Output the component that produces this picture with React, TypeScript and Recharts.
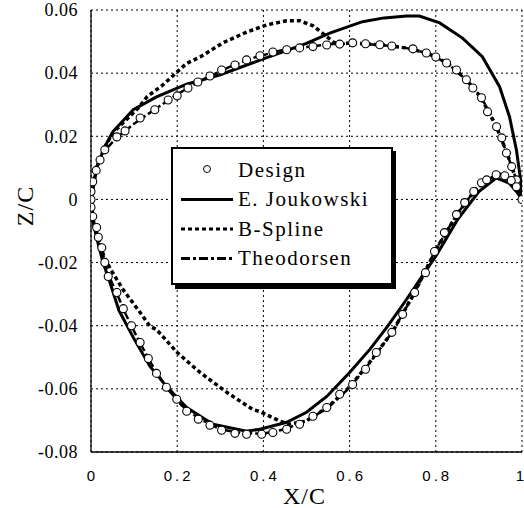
import React from 'react';
import { ComposedChart, Line, Scatter, XAxis, YAxis, CartesianGrid, Label } from 'recharts';

const xTicks = [0, 0.2, 0.4, 0.6, 0.8, 1];
const zTicks = [-0.08, -0.06, -0.04, -0.02, 0, 0.02, 0.04, 0.06];

// Sections run trailing edge -> upper surface -> leading edge -> lower surface -> trailing edge
const designX = [
  1.0, 0.987, 0.976, 0.964, 0.953, 0.941, 0.92, 0.906, 0.886, 0.871, 0.848, 0.825, 0.8, 0.778, 0.747,
  0.698, 0.67, 0.637, 0.607, 0.577, 0.547, 0.515, 0.484, 0.454, 0.422, 0.392, 0.361, 0.334, 0.303,
  0.276, 0.248, 0.225, 0.2, 0.179, 0.148, 0.114, 0.079, 0.06, 0.032, 0.021, 0.012, 0.004, 0.0, 0.0,
  0.0, 0.004, 0.013, 0.017, 0.025, 0.032, 0.04, 0.06, 0.075, 0.094, 0.114, 0.133, 0.152, 0.175,
  0.199, 0.222, 0.249, 0.276, 0.303, 0.334, 0.361, 0.396, 0.422, 0.454, 0.484, 0.515, 0.547, 0.577,
  0.607, 0.637, 0.662, 0.698, 0.723, 0.751, 0.776, 0.797, 0.82, 0.848, 0.867, 0.888, 0.906, 0.918,
  0.94, 0.96, 0.975, 0.987,
];
const designZ = [
  0.0, 0.0062, 0.0104, 0.0147, 0.0195, 0.023, 0.0278, 0.0322, 0.0353, 0.0379, 0.041, 0.0432, 0.0451,
  0.0464, 0.0477, 0.0486, 0.049, 0.0493, 0.0496, 0.0492, 0.0489, 0.0484, 0.048, 0.0474, 0.0467,
  0.0455, 0.0442, 0.0426, 0.041, 0.0391, 0.0372, 0.0353, 0.0328, 0.0315, 0.0284, 0.0258, 0.0217,
  0.0198, 0.0157, 0.0125, 0.0092, 0.0056, 0.0025, 0.0, -0.0025, -0.0054, -0.0089, -0.012, -0.0153,
  -0.02, -0.0244, -0.0295, -0.0346, -0.04, -0.0453, -0.0504, -0.0551, -0.0595, -0.0633, -0.0671,
  -0.0696, -0.0715, -0.0731, -0.0741, -0.0744, -0.0744, -0.0738, -0.0728, -0.0712, -0.0687, -0.0659,
  -0.0617, -0.0586, -0.0538, -0.0485, -0.0421, -0.0364, -0.0295, -0.0232, -0.0165, -0.0105, -0.0048,
  -0.001, 0.0025, 0.0053, 0.0062, 0.0078, 0.0075, 0.006, 0.004,
];

const joukowskiX = [
  1.0, 0.999, 0.987, 0.971, 0.948, 0.908, 0.862, 0.809, 0.762, 0.732, 0.68, 0.63, 0.554, 0.5, 0.4,
  0.3, 0.222, 0.152, 0.098, 0.051, 0.032, 0.014, 0.002, 0.005, 0.016, 0.028, 0.044, 0.065, 0.098,
  0.137, 0.175, 0.222, 0.283, 0.361, 0.392, 0.454, 0.5, 0.547, 0.6, 0.647, 0.688, 0.732, 0.77, 0.8,
  0.85, 0.9, 0.94, 0.97, 0.99, 1.0,
];
const joukowskiZ = [
  0.0, 0.004, 0.0157, 0.0262, 0.0357, 0.0452, 0.0511, 0.0559, 0.0581, 0.0581, 0.0575, 0.0563,
  0.0527, 0.0494, 0.0445, 0.0395, 0.0365, 0.0325, 0.0284, 0.0215, 0.0167, 0.0104, 0.001, -0.0073,
  -0.0137, -0.02, -0.0263, -0.0352, -0.0437, -0.0529, -0.0592, -0.0659, -0.0712, -0.0734, -0.0728,
  -0.0706, -0.0674, -0.0624, -0.0548, -0.0475, -0.0402, -0.0317, -0.024, -0.018, -0.0065, 0.0025,
  0.0068, 0.0052, 0.002, 0.0,
];

const bSplineX = [
  1.0, 0.985, 0.965, 0.94, 0.905, 0.87, 0.825, 0.78, 0.73, 0.68, 0.62, 0.565, 0.542, 0.515, 0.484,
  0.454, 0.408, 0.361, 0.306, 0.253, 0.222, 0.2, 0.167, 0.13, 0.11, 0.08, 0.05, 0.03, 0.014, 0.003,
  0.0, 0.004, 0.015, 0.03, 0.045, 0.074, 0.109, 0.137, 0.152, 0.2, 0.253, 0.315, 0.375, 0.392, 0.438,
  0.46, 0.5, 0.55, 0.6, 0.65, 0.7, 0.75, 0.8, 0.85, 0.89, 0.92, 0.95, 0.975, 1.0,
];
const bSplineZ = [
  0.0, 0.0068, 0.0148, 0.0232, 0.0322, 0.0381, 0.0433, 0.0464, 0.048, 0.0489, 0.0494, 0.0496,
  0.0521, 0.055, 0.0566, 0.0566, 0.0553, 0.053, 0.0496, 0.0451, 0.0431, 0.0404, 0.0363, 0.0325,
  0.029, 0.025, 0.021, 0.016, 0.0104, 0.004, 0.0, -0.006, -0.012, -0.018, -0.022, -0.0285, -0.0349,
  -0.0402, -0.0412, -0.0485, -0.0548, -0.0611, -0.0665, -0.0672, -0.0702, -0.0712, -0.0702, -0.0657,
  -0.0594, -0.051, -0.0418, -0.0297, -0.016, -0.0046, 0.0027, 0.0064, 0.0079, 0.006, 0.0,
];

const theodorsenX = [
  1.0, 0.985, 0.965, 0.94, 0.905, 0.87, 0.825, 0.78, 0.73, 0.68, 0.62, 0.56, 0.5, 0.44, 0.38, 0.32,
  0.26, 0.2, 0.15, 0.1, 0.06, 0.03, 0.012, 0.002, 0.0, 0.003, 0.012, 0.025, 0.04, 0.06, 0.08, 0.11,
  0.14, 0.175, 0.21, 0.25, 0.3, 0.35, 0.4, 0.45, 0.5, 0.55, 0.6, 0.65, 0.7, 0.75, 0.8, 0.85, 0.89,
  0.92, 0.95, 0.975, 1.0,
];
const theodorsenZ = [
  0.0, 0.007, 0.0145, 0.0235, 0.0325, 0.038, 0.0433, 0.0463, 0.048, 0.0488, 0.0494, 0.0492, 0.0483,
  0.0472, 0.045, 0.0419, 0.038, 0.0333, 0.0287, 0.024, 0.0196, 0.0152, 0.0093, 0.004, 0.0, -0.005,
  -0.0095, -0.0158, -0.0238, -0.0298, -0.0362, -0.0445, -0.052, -0.0596, -0.0652, -0.0694, -0.0728,
  -0.074, -0.0742, -0.0728, -0.07, -0.066, -0.0596, -0.0512, -0.0418, -0.0298, -0.0158, -0.0045,
  0.0028, 0.0063, 0.0078, 0.006, 0.0,
];

const toPoints = (xs: number[], zs: number[]) => xs.map((x, i) => ({ x, z: zs[i] }));

const design = toPoints(designX, designZ);
const joukowski = toPoints(joukowskiX, joukowskiZ);
const bSpline = toPoints(bSplineX, bSplineZ);
const theodorsen = toPoints(theodorsenX, theodorsenZ);

const serifText = { fontFamily: 'Liberation Serif' };
const sansText = { fontFamily: 'Liberation Sans' };

const SOLID = undefined;
const DOTTED = '4 3';
const DASH_DOT = '9 3 3 3';

const XTick = (props: any) => {
  const { x, y, payload } = props;
  return (
    <text x={x + 1.5} y={y} dy="0.71em" textAnchor="middle" style={sansText} fontSize={15} letterSpacing={3} fill="#000">
      {String(payload.value)}
    </text>
  );
};

const YTick = (props: any) => {
  const { x, y, payload } = props;
  const v = payload.value as number;
  return (
    <text x={x} y={y} dy="0.35em" textAnchor="end" style={serifText} fontSize={18} letterSpacing={0.5} fill="#000">
      {v === 0 ? '0' : v.toFixed(2)}
    </text>
  );
};

const NoTick = () => null;

const Ring = (props: any) => {
  const { cx, cy } = props;
  return <circle cx={cx} cy={cy} r={4} fill="#fff" stroke="#000" strokeWidth={1.1} />;
};

const legendRows = [
  { name: 'Design', dash: null },
  { name: 'E. Joukowski', dash: SOLID },
  { name: 'B-Spline', dash: DOTTED },
  { name: 'Theodorsen', dash: DASH_DOT },
];

const ChartLegend = () => (
  <svg width={228} height={145} style={{ position: 'absolute', left: 171, top: 147 }}>
    <rect x={4} y={4} width={221} height={138} fill="#000" />
    <rect x={1} y={1} width={220} height={136} fill="#fff" stroke="#000" strokeWidth={2} />
    {legendRows.map((row, i) => {
      const y = 23 + i * 29.5;
      return (
        <g key={row.name}>
          {row.dash === null ? (
            <circle cx={36} cy={y - 1} r={3.5} fill="#fff" stroke="#000" strokeWidth={1} />
          ) : (
            <line x1={10} x2={62} y1={y} y2={y} stroke="#000" strokeWidth={3} strokeDasharray={row.dash} />
          )}
          <text x={67} y={y} dy="0.33em" style={serifText} fontSize={21} letterSpacing={1.5} fill="#000">
            {row.name}
          </text>
        </g>
      );
    })}
  </svg>
);

export default function App() {
  return (
    <div style={{ position: 'absolute', left: 0, top: 0, width: 524, height: 508, background: '#fff' }}>
      <ComposedChart width={524} height={508} margin={{ top: 10, right: 2, bottom: 0, left: 0 }}>
        <CartesianGrid stroke="#000" strokeWidth={1} strokeDasharray="2 3" />
        <XAxis
          dataKey="x"
          type="number"
          domain={[0, 1]}
          ticks={xTicks}
          allowDataOverflow
          height={56}
          tickLine={false}
          tickSize={0}
          tickMargin={18}
          axisLine={{ stroke: '#000', strokeWidth: 1.3 }}
          tick={<XTick />}
        >
          <Label
            content={(p: any) => {
              const vb = p.viewBox;
              return (
                <text x={vb.x + vb.width / 2 - 2} y={vb.y + 44} dy="0.35em" textAnchor="middle" style={serifText} fontSize={24} letterSpacing={1} fill="#000">
                  X/C
                </text>
              );
            }}
          />
        </XAxis>
        <XAxis xAxisId="inner" type="number" domain={[0, 1]} ticks={xTicks} mirror height={0} axisLine={false} tickSize={8} tickLine={{ stroke: '#000' }} tick={NoTick} />
        <XAxis xAxisId="top" orientation="top" type="number" domain={[0, 1]} ticks={xTicks} mirror height={0} axisLine={{ stroke: '#000', strokeWidth: 1.3 }} tickLine={false} tick={NoTick} />
        <YAxis
          dataKey="z"
          type="number"
          domain={[-0.08, 0.06]}
          ticks={zTicks}
          allowDataOverflow
          width={91}
          tickLine={false}
          tickSize={0}
          tickMargin={13}
          axisLine={{ stroke: '#000', strokeWidth: 1.3 }}
          tick={<YTick />}
        >
          <Label
            content={(p: any) => {
              const vb = p.viewBox;
              const cx = vb.x + 25;
              const cy = vb.y + vb.height / 2 - 25;
              return (
                <text x={cx} y={cy} dy="0.35em" transform={`rotate(-90 ${cx} ${cy})`} textAnchor="middle" style={serifText} fontSize={24} letterSpacing={1} fill="#000">
                  Z/C
                </text>
              );
            }}
          />
        </YAxis>
        <YAxis yAxisId="inner" type="number" domain={[-0.08, 0.06]} ticks={zTicks} mirror width={0} axisLine={false} tickSize={8} tickLine={{ stroke: '#000' }} tick={NoTick} />
        <YAxis yAxisId="right" orientation="right" type="number" domain={[-0.08, 0.06]} ticks={zTicks} mirror width={0} axisLine={{ stroke: '#000', strokeWidth: 1.3 }} tickSize={9} tickLine={{ stroke: '#000' }} tick={NoTick} />

        <Scatter name="Design" data={design} dataKey="z" shape={<Ring />} isAnimationActive={false} />
        <Line name="Theodorsen" data={theodorsen} dataKey="z" type="linear" stroke="#000" strokeWidth={2.5} strokeDasharray={DASH_DOT} dot={false} isAnimationActive={false} />
        <Line name="B-Spline" data={bSpline} dataKey="z" type="linear" stroke="#000" strokeWidth={3.5} strokeDasharray={DOTTED} dot={false} isAnimationActive={false} />
        <Line name="E. Joukowski" data={joukowski} dataKey="z" type="linear" stroke="#000" strokeWidth={3} dot={false} isAnimationActive={false} />
      </ComposedChart>
      <ChartLegend />
    </div>
  );
}
